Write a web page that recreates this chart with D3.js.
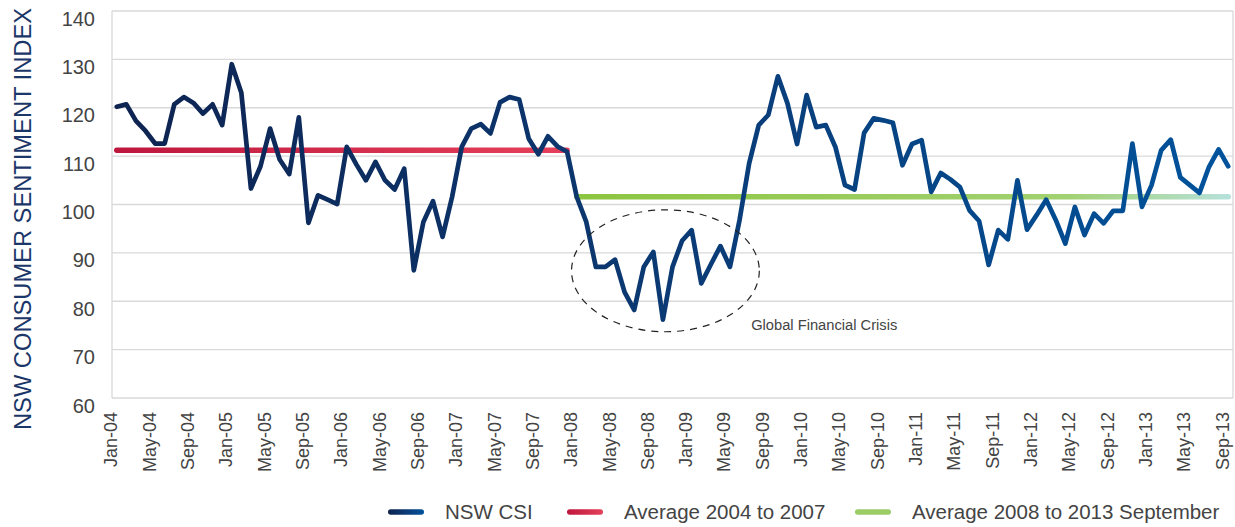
<!DOCTYPE html>
<html lang="en">
<head>
  <meta charset="UTF-8">
  <title>NSW Consumer Sentiment Index</title>
  <script src="https://d3js.org/d3.v7.min.js"></script>
  <style>
    body {
      margin: 0;
      background: #fff;
      font-family: "Liberation Sans", Arial, Helvetica, sans-serif;
    }
    .grid line { stroke: #d9d9d9; stroke-width: 1.3; }
    .tick-label { fill: #444; }
  </style>
</head>
<body>
  <div id="chart"></div>

  <script>
    // NSW CSI, monthly Jan-04 .. Sep-13
    const csi = [
      120.2, 120.7, 117.3, 115.2, 112.6, 112.6, 120.7, 122.2, 121.0, 118.8, 120.7, 116.4,
      129.0, 123.1, 103.3, 107.9, 115.7, 109.3, 106.3, 118.0, 96.2, 101.9, 101.0, 100.1,
      111.9, 108.3, 105.0, 108.8, 105.0, 103.1, 107.4, 86.4, 96.4, 100.7, 93.3, 101.6,
      111.9, 115.7, 116.6, 114.7, 121.1, 122.2, 121.7, 113.6, 110.4, 114.1, 112.0, 110.9,
      101.6, 96.4, 87.1, 87.1, 88.6, 81.9, 78.2, 87.1, 90.2, 76.2, 87.1, 92.5,
      94.7, 83.7, 87.6, 91.4, 87.1, 96.8, 108.5, 116.4, 118.5, 126.5, 120.9, 112.5,
      122.6, 116.0, 116.4, 111.9, 104.0, 103.1, 114.8, 117.8, 117.4, 116.9, 108.1, 112.5,
      113.3, 102.6, 106.5, 105.2, 103.6, 98.8, 96.6, 87.5, 94.7, 92.8, 105.0, 94.8,
      97.8, 101.0, 96.8, 91.9, 99.5, 93.7, 98.1, 96.1, 98.7, 98.7, 112.6, 99.5,
      104.0, 111.2, 113.4, 105.6, 104.0, 102.4, 107.8, 111.4, 107.9
    ];

    // period averages
    const avg2004to2007 = 111.2;
    const avg2008to2013 = 101.6;

    const tickLabels = [
      "Jan-04", "May-04", "Sep-04", "Jan-05", "May-05", "Sep-05", "Jan-06", "May-06",
      "Sep-06", "Jan-07", "May-07", "Sep-07", "Jan-08", "May-08", "Sep-08", "Jan-09",
      "May-09", "Sep-09", "Jan-10", "May-10", "Sep-10", "Jan-11", "May-11", "Sep-11",
      "Jan-12", "May-12", "Sep-12", "Jan-13", "May-13", "Sep-13"
    ];
    const yTicks = [60, 70, 80, 90, 100, 110, 120, 130, 140];

    const seriesNames = ["NSW CSI", "Average 2004 to 2007", "Average 2008 to 2013 September"];

    // month categories
    const fmt = d3.timeFormat("%b-%y");
    const months = d3.timeMonths(new Date(2004, 0, 1), new Date(2013, 9, 1)).map(fmt);

    const margin = {top: 11, right: 2, bottom: 129, left: 112},
          width = 1235 - margin.left - margin.right,
          height = 527 - margin.top - margin.bottom;

    const root = d3.select("#chart")
                   .append("svg")
                   .attr("width", 1235)
                   .attr("height", 527);

    const defs = root.append("defs");
    // gradient along x; user space when x1/x2 given (flat lines have no bbox height)
    function grad(id, stops, x1, x2) {
      const g = defs.append("linearGradient").attr("id", id);
      if (x1 === undefined) {
        g.attr("x1", 0).attr("x2", 1).attr("y1", 0).attr("y2", 0);
      } else {
        g.attr("gradientUnits", "userSpaceOnUse")
         .attr("x1", x1).attr("x2", x2).attr("y1", 0).attr("y2", 0);
      }
      stops.forEach(s => g.append("stop").attr("offset", s[0]).attr("stop-color", s[1]));
    }

    const svg = root.append("g")
                    .attr("transform", `translate(${margin.left},${margin.top})`);

    const x = d3.scalePoint()
                .domain(months)
                .range([0, width])
                .padding(0.5);

    const y = d3.scaleLinear()
                .domain([60, 140])
                .range([height, 0]);

    const blueStops = [[0, "#0e2350"], [0.5, "#0b3a74"], [1, "#00539c"]];
    const redStops = [[0, "#be173e"], [1, "#e5415a"]];
    const greenStops = [[0, "#8cc540"], [0.75, "#a2d171"], [1, "#b6e1da"]];
    grad("gBlue", blueStops, 0, width);
    grad("gRed", redStops, x(months[0]), x(months[47]));
    grad("gGreen", greenStops, x(months[48]), x(months[months.length - 1]));
    grad("lBlue", blueStops);
    grad("lRed", redStops);

    // gridlines + frame
    svg.append("g").attr("class", "grid")
       .selectAll("line")
       .data(yTicks)
       .enter().append("line")
       .attr("x1", 0).attr("x2", width)
       .attr("y1", d => y(d)).attr("y2", d => y(d));
    svg.append("g").attr("class", "grid")
       .selectAll("line")
       .data([0, width])
       .enter().append("line")
       .attr("x1", d => d).attr("x2", d => d)
       .attr("y1", 0).attr("y2", height);

    // y labels (sit just under their gridline, like the original)
    svg.append("g")
       .selectAll("text")
       .data(yTicks)
       .enter().append("text")
       .attr("class", "tick-label")
       .attr("x", -17)
       .attr("y", d => y(d) + 14.5)
       .attr("text-anchor", "end")
       .style("font-size", "20px")
       .text(d => d);

    // x axis
    const xAxis = d3.axisBottom(x)
                    .tickValues(tickLabels)
                    .tickSize(0)
                    .tickPadding(0);
    const gx = svg.append("g")
                  .attr("transform", `translate(0,${height})`)
                  .call(xAxis);
    gx.select(".domain").remove();
    gx.selectAll("text")
      .attr("class", "tick-label")
      .attr("transform", "rotate(-90)")
      .attr("text-anchor", "end")
      .attr("x", -14)
      .attr("y", 0)
      .attr("dy", 0)
      .style("font-size", "18px")
      .style("font-family", "'Liberation Sans', Arial, sans-serif");

    // y title
    root.append("text")
        .attr("transform", "translate(31,219) rotate(-90)")
        .attr("text-anchor", "middle")
        .style("font-size", "23.7px")
        .style("fill", "#1b3668")
        .text("NSW CONSUMER SENTIMENT INDEX");

    // averages
    const avgLine = d3.line().x(d => x(d.m)).y(d => y(d.v));
    svg.append("path")
       .attr("d", avgLine([{m: months[0], v: avg2004to2007}, {m: months[47], v: avg2004to2007}]))
       .attr("fill", "none")
       .attr("stroke", "url(#gRed)")
       .attr("stroke-width", 5.5)
       .attr("stroke-linecap", "round");
    svg.append("path")
       .attr("d", avgLine([{m: months[48], v: avg2008to2013}, {m: months[months.length - 1], v: avg2008to2013}]))
       .attr("fill", "none")
       .attr("stroke", "url(#gGreen)")
       .attr("stroke-width", 5.5)
       .attr("stroke-linecap", "round");

    // CSI line
    const line = d3.line()
                   .x((d, i) => x(months[i]))
                   .y(d => y(d));
    svg.append("path")
       .datum(csi)
       .attr("d", line)
       .attr("fill", "none")
       .attr("stroke", "url(#gBlue)")
       .attr("stroke-width", 4.7)
       .attr("stroke-linejoin", "round")
       .attr("stroke-linecap", "round");

    // GFC annotation
    svg.append("ellipse")
       .attr("cx", x(months[57]) + 2.5)
       .attr("cy", y(86.3))
       .attr("rx", x.step() * 9.8)
       .attr("ry", y(60) - y(72.6))
       .attr("fill", "none")
       .attr("stroke", "#222")
       .attr("stroke-width", 1.2)
       .attr("stroke-dasharray", "7,6");
    svg.append("text")
       .attr("x", x(months[66]) + 2)
       .attr("y", y(74.1))
       .style("font-size", "14.7px")
       .style("fill", "#444")
       .text("Global Financial Crisis");

    // legend
    const legendX = [388, 567, 855];
    const legendFill = ["url(#lBlue)", "url(#lRed)", "#9ccc65"];
    const lg = root.append("g").attr("transform", "translate(0,512)");
    seriesNames.forEach((name, i) => {
      lg.append("rect")
        .attr("x", legendX[i]).attr("y", -2.75)
        .attr("width", 36).attr("height", 5.5)
        .attr("rx", 2.75)
        .attr("fill", legendFill[i]);
      lg.append("text")
        .attr("x", legendX[i] + 57)
        .attr("y", 7)
        .style("font-size", "20.5px")
        .style("fill", "#444")
        .text(name);
    });
  </script>
</body>
</html>
